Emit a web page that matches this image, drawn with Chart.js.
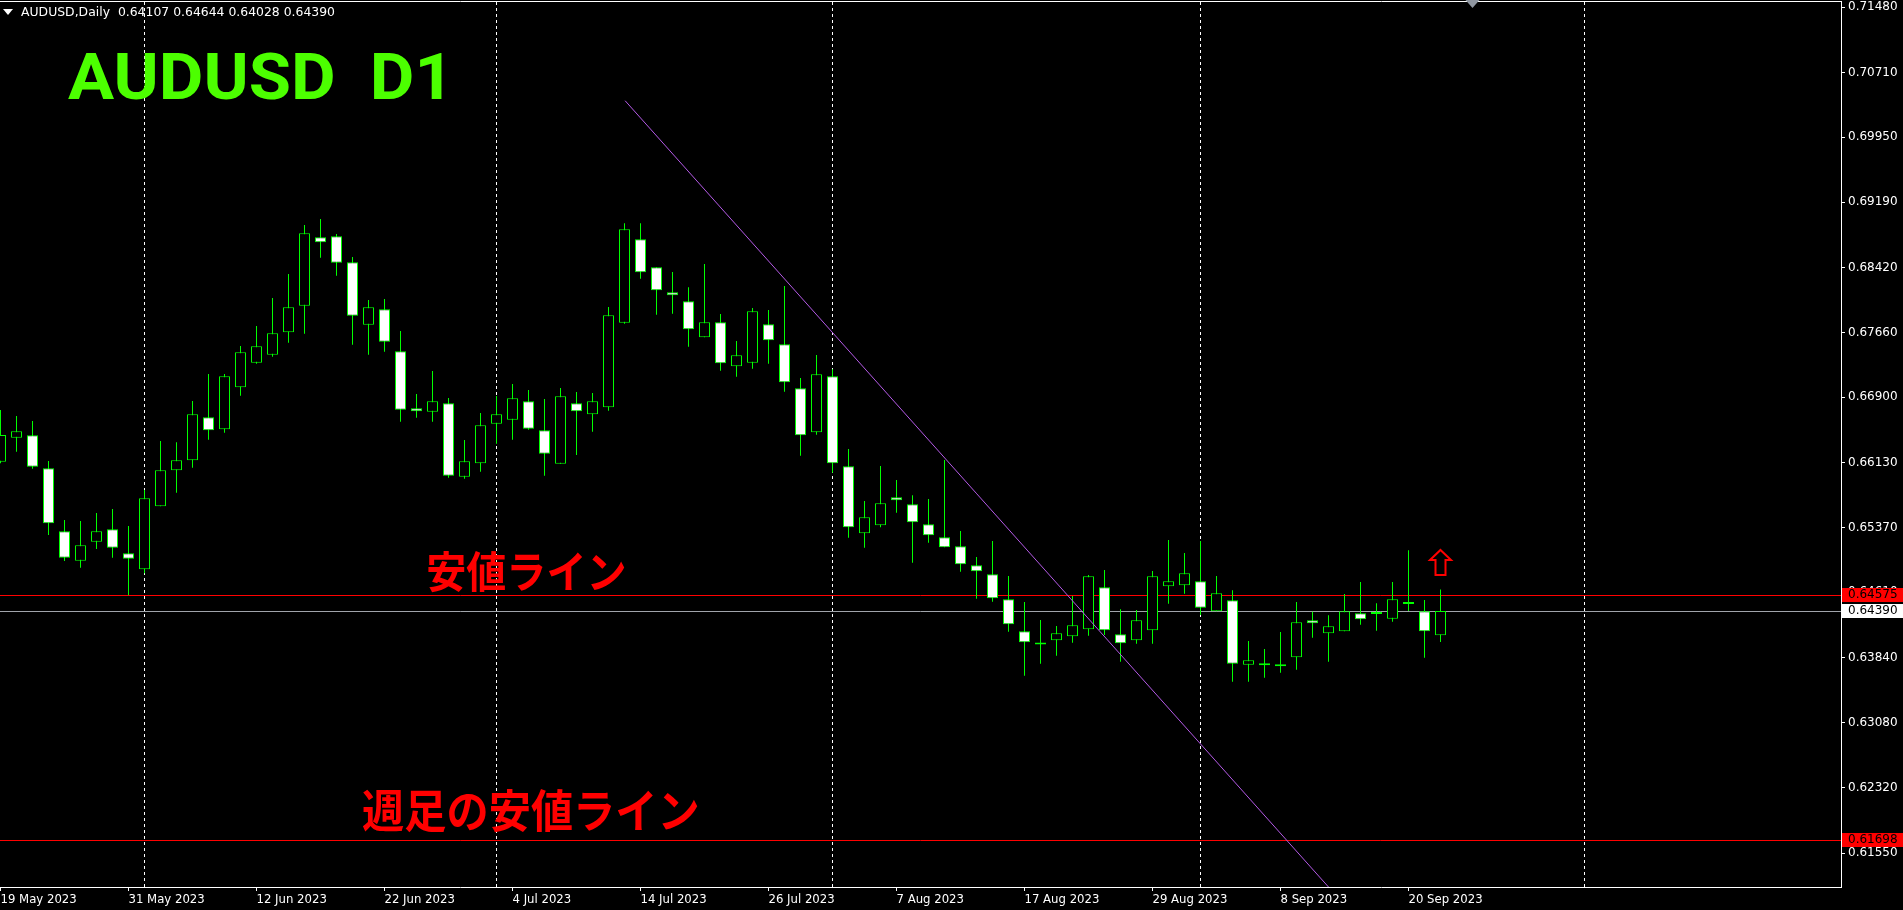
<!DOCTYPE html>
<html>
<head>
<meta charset="utf-8">
<script src="https://cdn.jsdelivr.net/npm/chart.js@4.4.0/dist/chart.umd.min.js"></script>
<style>
html,body{margin:0;padding:0;background:#000;overflow:hidden}
</style>
</head>
<body>
<canvas id="myChart" width="1903" height="910"></canvas>
<script>
// AUDUSD daily candles, bar 0 = 19 May 2023
var opens=[0.66143,0.66425,0.66453,0.66066,0.65326,0.64981,0.65204,0.65350,0.65068,0.64880,
0.65620,0.66042,0.66160,0.66664,0.66524,0.67016,0.67305,0.67399,0.67662,0.67974,
0.68777,0.68789,0.68484,0.67751,0.67932,0.67439,0.66770,0.66730,0.66829,0.65967,
0.66124,0.66589,0.66636,0.66852,0.66512,0.66120,0.66829,0.66700,0.66782,0.67775,
0.68754,0.68425,0.68131,0.68026,0.67603,0.67779,0.67263,0.67305,0.67756,0.67521,
0.67005,0.66488,0.67146,0.66089,0.65303,0.65397,0.65725,0.65643,0.65409,0.65256,
0.65150,0.64927,0.64822,0.64528,0.64153,0.63998,0.64047,0.64094,0.64176,0.64669,
0.64117,0.64047,0.64164,0.64681,0.64693,0.64739,0.64387,0.64516,0.63761,0.63754,
0.63742,0.63847,0.64282,0.64129,0.64153,0.64364,0.64356,0.64301,0.64473,0.64387,0.64107]
var highs=[0.66750,0.66680,0.66621,0.66151,0.65459,0.65447,0.65541,0.65588,0.65389,0.65811,
0.66386,0.66371,0.66856,0.67173,0.67173,0.67501,0.67736,0.68065,0.68346,0.68921,
0.68992,0.68816,0.68546,0.68041,0.68053,0.67677,0.66938,0.67208,0.66891,0.66398,
0.66715,0.66914,0.67055,0.66985,0.66879,0.67008,0.66961,0.66950,0.67959,0.68941,
0.68941,0.68425,0.68370,0.68190,0.68464,0.67877,0.67560,0.67947,0.67924,0.68205,
0.67126,0.67396,0.67228,0.66292,0.65682,0.66093,0.65928,0.65749,0.65705,0.66163,
0.65330,0.65025,0.65212,0.64802,0.64497,0.64285,0.64215,0.64567,0.64813,0.64872,
0.64411,0.64403,0.64860,0.65224,0.65072,0.65212,0.64802,0.64634,0.64039,0.63945,
0.64144,0.64497,0.64383,0.64340,0.64590,0.64731,0.64481,0.64731,0.65103,0.64520,0.64644]
var lows=[0.66124,0.66261,0.66061,0.65283,0.64978,0.64899,0.65119,0.65016,0.64575,0.64833,
0.65620,0.65779,0.66073,0.66401,0.66484,0.66918,0.67293,0.67376,0.67540,0.67646,
0.68538,0.68326,0.67516,0.67399,0.67434,0.66613,0.66660,0.66613,0.65955,0.65944,
0.66026,0.66354,0.66401,0.66519,0.65979,0.66120,0.66222,0.66495,0.66742,0.67763,
0.68291,0.67869,0.67880,0.67493,0.67603,0.67211,0.67141,0.67235,0.67293,0.66965,
0.66214,0.66460,0.66014,0.65251,0.65134,0.65373,0.65545,0.64958,0.65193,0.65139,
0.64852,0.64535,0.64500,0.64148,0.63631,0.63772,0.63866,0.64019,0.64101,0.64109,
0.63796,0.64007,0.64007,0.64477,0.64594,0.64344,0.64387,0.63561,0.63561,0.63608,
0.63667,0.63702,0.64077,0.63796,0.64153,0.64230,0.64160,0.64265,0.64391,0.63843,0.64028]
var closes=[0.66457,0.66500,0.66085,0.65420,0.65016,0.65162,0.65326,0.65134,0.65005,0.65714,
0.66042,0.66160,0.66700,0.66512,0.67146,0.67427,0.67498,0.67650,0.67955,0.68824,
0.68718,0.68479,0.67857,0.67955,0.67552,0.66754,0.66735,0.66852,0.65979,0.66148,
0.66570,0.66700,0.66887,0.66531,0.66237,0.66911,0.66735,0.66852,0.67862,0.68871,
0.68366,0.68155,0.68096,0.67697,0.67779,0.67298,0.67392,0.67908,0.67568,0.67075,
0.66453,0.67169,0.66124,0.65373,0.65491,0.65655,0.65690,0.65432,0.65279,0.65139,
0.64939,0.64857,0.64540,0.64235,0.64024,0.63998,0.64129,0.64223,0.64798,0.64164,
0.64012,0.64282,0.64798,0.64739,0.64833,0.64430,0.64599,0.63772,0.63812,0.63754,
0.63742,0.64258,0.64246,0.64211,0.64387,0.64293,0.64356,0.64528,0.64473,0.64153,0.64390]

var dateLabels=['19 May 2023','31 May 2023','12 Jun 2023','22 Jun 2023','4 Jul 2023','14 Jul 2023',
'26 Jul 2023','7 Aug 2023','17 Aug 2023','29 Aug 2023','8 Sep 2023','20 Sep 2023']
var dateIdx=[0,8,16,24,32,40,48,56,64,72,80,88]
var monthSep=[9,31,52,75,99]
var priceTicks=[0.71480,0.70710,0.69950,0.69190,0.68420,0.67660,0.66900,0.66130,0.65370,0.64610,0.63840,0.63080,0.62320,0.61550]

var lowLine=0.64575      // 安値ライン
var weeklyLowLine=0.61698 // 週足の安値ライン
var trendX=[39.04,83.0]
var trendY=[0.70380,0.61151]
var arrowBar=90, arrowPrice=0.65120
var shiftBar=92

var idx=opens.map(function(v,i){return i})
var bid=closes[closes.length-1]
var UP='#00FF00'

// fit text ink into box [left, top, right, bottom]
function fitText(ctx,text,font,color,box){
    ctx.save()
    ctx.textAlign='left'
    ctx.textBaseline='alphabetic'
    ctx.font=font.replace('{s}','100')
    var m=ctx.measureText(text)
    var size=(box[3]-box[1])*100/(m.actualBoundingBoxAscent+m.actualBoundingBoxDescent)
    ctx.font=font.replace('{s}',size.toFixed(2))
    var m2=ctx.measureText(text)
    var sx=(box[2]-box[0])/(m2.actualBoundingBoxLeft+m2.actualBoundingBoxRight)
    ctx.fillStyle=color
    ctx.translate(box[0]+m2.actualBoundingBoxLeft*sx,box[1]+m2.actualBoundingBoxAscent)
    ctx.scale(sx,1)
    ctx.fillText(text,0,0)
    ctx.restore()
}

var mt4Extras={
    id:'mt4Extras',
    beforeDatasetsDraw:function(chart){
        var ctx=chart.ctx,a=chart.chartArea,x=chart.scales.x,y=chart.scales.y
        ctx.save()
        ctx.lineWidth=1
        ctx.strokeStyle='#fff'
        ctx.setLineDash([3,3])
        monthSep.forEach(function(i){
            var px=Math.round(x.getPixelForValue(i)-0.5)+0.5
            if(px>a.right)return
            ctx.beginPath();ctx.moveTo(px,a.top);ctx.lineTo(px,a.bottom);ctx.stroke()
        })
        ctx.setLineDash([])
        function hline(v,c){
            var py=Math.round(y.getPixelForValue(v)-0.5)+0.5
            ctx.strokeStyle=c
            ctx.beginPath();ctx.moveTo(a.left,py);ctx.lineTo(a.right,py);ctx.stroke()
        }
        hline(lowLine,'#ff0000')
        hline(weeklyLowLine,'#ff0000')
        hline(bid,'#a0a4aa')
        ctx.restore()
    },
    afterDraw:function(chart){
        var ctx=chart.ctx,a=chart.chartArea,x=chart.scales.x,y=chart.scales.y
        ctx.save()
        // top frame
        ctx.strokeStyle='#fff';ctx.lineWidth=1
        ctx.beginPath();ctx.moveTo(0,1.5);ctx.lineTo(a.right+1,1.5);ctx.stroke()

        // chart shift marker
        var sx=x.getPixelForValue(shiftBar)
        ctx.fillStyle='#8f96a0'
        ctx.beginPath();ctx.moveTo(sx-7,0);ctx.lineTo(sx+7,0);ctx.lineTo(sx,8);ctx.closePath();ctx.fill()

        // big labels
        fitText(ctx,'AUDUSD  D1','bold {s}px Roboto','#4cff00',[68,52,442,100])
        fitText(ctx,'安値ライン','bold {s}px "Noto Sans CJK JP"','#ff0000',[428,550,625,592])
        fitText(ctx,'週足の安値ライン','bold {s}px "Noto Sans CJK JP"','#ff0000',[363,788,698,832])

        // header
        ctx.fillStyle='#fff'
        ctx.beginPath();ctx.moveTo(3,9);ctx.lineTo(13,9);ctx.lineTo(8,15);ctx.closePath();ctx.fill()
        var n=closes.length-1
        var head='AUDUSD,Daily  '+opens[n].toFixed(5)+' '+highs[n].toFixed(5)+' '+lows[n].toFixed(5)+' '+closes[n].toFixed(5)
        ctx.font='12px "DejaVu Sans"'
        ctx.textAlign='left'
        ctx.textBaseline='middle'
        var hw=ctx.measureText(head).width
        ctx.save();ctx.translate(21,13);ctx.scale(314/hw,1);ctx.fillText(head,0,0);ctx.restore()

        // arrow
        var cx=x.getPixelForValue(arrowBar),ty=Math.round(y.getPixelForValue(arrowPrice))
        ctx.strokeStyle='#ff0000';ctx.lineWidth=2;ctx.lineJoin='miter'
        ctx.beginPath()
        ctx.moveTo(cx,ty+1)
        ctx.lineTo(cx+10.5,ty+11);ctx.lineTo(cx+5,ty+11);ctx.lineTo(cx+5,ty+26)
        ctx.lineTo(cx-5,ty+26);ctx.lineTo(cx-5,ty+11);ctx.lineTo(cx-10.5,ty+11)
        ctx.closePath();ctx.stroke()

        // price labels on the axis
        function tag(v,bg){
            var py=Math.round(y.getPixelForValue(v))
            ctx.fillStyle=bg
            ctx.fillRect(a.right+1,py-7,chart.width-a.right-1,14)
            ctx.fillStyle='#000'
            ctx.font='12px "DejaVu Sans"'
            ctx.textBaseline='middle';ctx.textAlign='left'
            ctx.fillText(v.toFixed(5),a.right+7,py)
        }
        tag(lowLine,'#ff0000')
        tag(bid,'#ffffff')
        tag(weeklyLowLine,'#ff0000')
        ctx.restore()
    }
}

chart=new Chart('myChart',{
    type:'bar',
    data:{
        datasets:[{
            label:'trend',
            type:'line',
            data:[{x:trendX[0],y:trendY[0]},{x:trendX[1],y:trendY[1]}],
            borderColor:'#b45ae6',
            borderWidth:1,
            pointRadius:0,
            order:0
        },{
            label:'body',
            data:idx.map(function(i){return {x:i,y:[opens[i],closes[i]]}}),
            backgroundColor:idx.map(function(i){return closes[i]>=opens[i]?'#000':'#fff'}),
            borderColor:UP,
            borderWidth:1,
            borderSkipped:false,
            maxBarThickness:11,
            minBarLength:2,
            grouped:false,
            order:1
        },{
            label:'wick',
            data:idx.map(function(i){return {x:i,y:[lows[i],highs[i]]}}),
            backgroundColor:UP,
            borderWidth:0,
            maxBarThickness:1,
            grouped:false,
            order:2
        }]
    },
    options:{
        responsive:false,
        devicePixelRatio:1,
        animation:false,
        events:[],
        layout:{padding:{top:2,left:0,right:0,bottom:0}},
        plugins:{legend:{display:false},tooltip:{enabled:false}},
        scales:{
            x:{
                type:'linear',
                min:-0.5/16,
                max:-0.5/16+1841/16,
                offset:false,
                afterBuildTicks:function(s){s.ticks=dateIdx.map(function(v){return {value:v}})},
                afterFit:function(s){s.height=23;s.paddingLeft=0;s.paddingRight=0},
                ticks:{
                    callback:function(v){return dateLabels[dateIdx.indexOf(v)]},
                    autoSkip:false,maxRotation:0,align:'start',padding:1,
                    color:'#fff',
                    font:{family:'"DejaVu Sans Condensed", "DejaVu Sans"',size:13}
                },
                grid:{drawOnChartArea:false,drawTicks:true,tickLength:4,color:'#fff',offset:false},
                border:{color:'#fff',width:1}
            },
            y:{
                type:'linear',
                position:'right',
                min:0.61151,
                max:0.71539,
                afterBuildTicks:function(s){s.ticks=priceTicks.map(function(v){return {value:v}})},
                afterFit:function(s){s.width=62;s.paddingTop=0;s.paddingBottom=0},
                ticks:{
                    callback:function(v){return v.toFixed(5)},
                    autoSkip:false,padding:3,
                    color:'#fff',
                    font:{family:'"DejaVu Sans"',size:12}
                },
                grid:{drawOnChartArea:false,drawTicks:true,tickLength:4,color:'#fff'},
                border:{color:'#fff',width:1}
            }
        }
    },
    plugins:[mt4Extras]
});
</script>
</body>
</html>
